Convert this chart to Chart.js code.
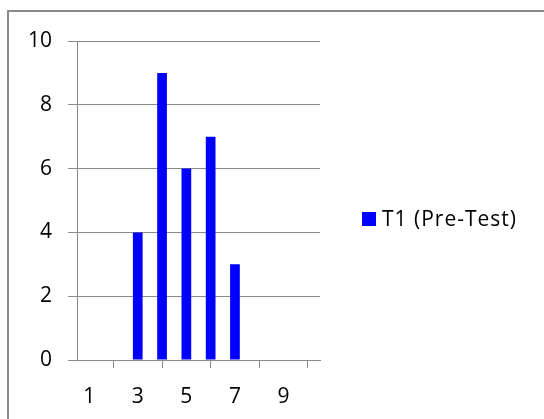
<!DOCTYPE html>
<html>
<head>
<meta charset="utf-8">
<script src="https://cdn.jsdelivr.net/npm/chart.js@4/dist/chart.umd.min.js"></script>
<style>
    html, body { margin: 0; padding: 0; background: #fff; }
    #wrap { position: relative; width: 544px; height: 419px; overflow: hidden; }
    #legend { position: absolute; left: 362px; top: 204px; font: 21px "Open Sans", sans-serif; letter-spacing: 1px; color: #000; white-space: nowrap; }
    #legend .box { display: inline-block; width: 14px; height: 14px; background: #0000ff; margin-right: 6px; vertical-align: 0px; }
</style>
</head>
<body>
<div id="wrap">
    <canvas id="mychart" width="544" height="419"></canvas>
    <div id="legend"></div>
</div>
<script>
const categories = ['1', '2', '3', '4', '5', '6', '7', '8', '9', '10'];
const seriesName = 'T1 (Pre-Test)';
const counts = [0, 0, 4, 9, 6, 7, 3, 0, 0, 0];
const yTicks = [0, 2, 4, 6, 8, 10];

const gridColor = '#8a8a8a';
const tickFont = { family: 'Open Sans', size: 21 };

// outer frame like the excel chart area
const framePlugin = {
    id: 'frame',
    beforeDraw: (chart) => {
        const ctx = chart.ctx;
        ctx.save();
        ctx.strokeStyle = '#8a8a8a';
        ctx.lineWidth = 2;
        ctx.strokeRect(8, 11, 600, 500);
        ctx.restore();
    }
};

const ctx = document.getElementById('mychart');

const chartCanvas = new Chart(ctx, {
    type: 'bar',
    data: {
        labels: categories,
        datasets: [
            {
                label: seriesName,
                data: counts,
                backgroundColor: '#0000ff',
                borderWidth: 0,
                barPercentage: 0.4,
                categoryPercentage: 1
            }
        ]
    },
    options: {
        responsive: false,
        animation: false,
        layout: {
            padding: { left: 0, right: 224, top: 41, bottom: 0 }
        },
        scales: {
            x: {
                offset: true,
                grid: {
                    offset: true,
                    drawOnChartArea: false,
                    tickLength: 8,
                    color: gridColor
                },
                border: { color: gridColor, width: 1 },
                ticks: {
                    autoSkip: false,
                    maxRotation: 0,
                    padding: 16,
                    color: '#000',
                    font: tickFont,
                    callback: (value, index) => index % 2 === 0 ? categories[index] : null
                },
                afterFit: (scale) => { scale.height = 59; }
            },
            y: {
                min: 0,
                max: 10,
                afterBuildTicks: (scale) => { scale.ticks = yTicks.map(v => ({ value: v })); },
                grid: {
                    color: gridColor,
                    tickLength: 9
                },
                border: { color: gridColor, width: 1 },
                ticks: {
                    padding: 16,
                    color: '#000',
                    font: tickFont
                },
                afterFit: (scale) => { scale.width = 77; }
            }
        },
        plugins: {
            legend: { display: false },
            tooltip: { enabled: false }
        }
    },
    plugins: [framePlugin]
});

document.getElementById('legend').innerHTML =
    `<span class="box"></span>${chartCanvas.data.datasets[0].label}`;
</script>
</body>
</html>
